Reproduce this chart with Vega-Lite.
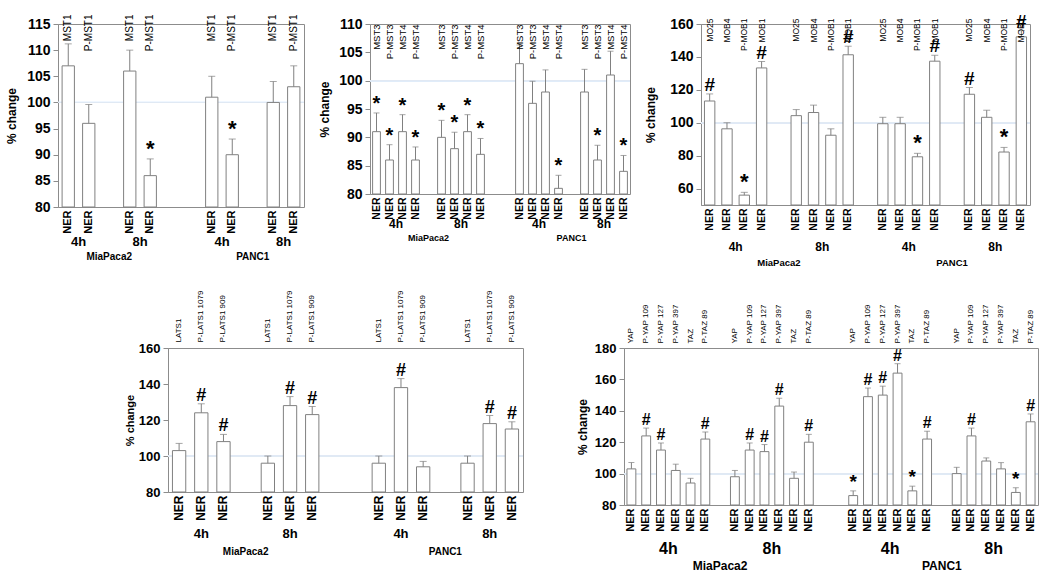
{
 "$schema": "https://vega.github.io/schema/vega-lite/v6.json",
 "background": "white",
 "padding": {"left": 5, "top": 12, "right": 0, "bottom": 0},
 "config": {
  "font": "Liberation Sans",
  "view": {"stroke": "#8c8c8c", "strokeWidth": 1},
  "axis": {"domainColor": "#8c8c8c", "tickColor": "#8c8c8c", "labelColor": "black", "titleColor": "black", "grid": false}
 },
 "spacing": 22,
 "vconcat": [
  {"spacing": 12, "hconcat": [
   {"width": 246, "height": 183,
    "data": {"values": [
     {"key": "M4h|MST1", "value": 107, "hi": 111.2, "sig": ""},
     {"key": "M4h|P-MST1", "value": 96, "hi": 99.6, "sig": ""},
     {"key": "M8h|MST1", "value": 106, "hi": 110, "sig": ""},
     {"key": "M8h|P-MST1", "value": 86, "hi": 89.2, "sig": "*"},
     {"key": "P4h|MST1", "value": 101, "hi": 105, "sig": ""},
     {"key": "P4h|P-MST1", "value": 90, "hi": 93, "sig": "*"},
     {"key": "P8h|MST1", "value": 100, "hi": 104, "sig": ""},
     {"key": "P8h|P-MST1", "value": 103, "hi": 107, "sig": ""}
    ]},
    "resolve": {"axis": {"x": "independent", "y": "independent"}},
    "layer": [
     {"mark": {"type": "rule", "color": "#e0e9f4", "strokeWidth": 1},
      "encoding": {"y": {"datum": 100, "type": "quantitative", "scale": {"domain": [80, 115], "nice": false, "zero": false}, "axis": null}}},
     {"mark": {"type": "bar", "fill": "white", "stroke": "#808080", "strokeWidth": 1},
      "encoding": {
       "x": {"field": "key", "type": "nominal", "scale": {"domain": ["M4h|MST1","M4h|P-MST1","g1","M8h|MST1","M8h|P-MST1","g2","g3","P4h|MST1","P4h|P-MST1","g4","P8h|MST1","P8h|P-MST1"], "paddingInner": 0.4, "paddingOuter": 0.2},
        "axis": {"orient": "bottom", "title": null, "labelExpr": "indexof(datum.value,'|') > 0 ? 'NER' : ''", "labelAngle": -90, "labelAlign": "right", "labelBaseline": "middle", "labelPadding": 3, "ticks": false, "tickSize": 0, "domain": false, "labelFontSize": 11, "labelFontWeight": "bold", "labelOverlap": false}},
       "y": {"field": "value", "type": "quantitative", "scale": {"domain": [80, 115], "nice": false, "zero": false},
        "axis": {"orient": "left", "title": "% change", "values": [80,85,90,95,100,105,110,115], "tickSize": 5, "labelPadding": 3, "titlePadding": 8, "labelFontSize": 14, "labelFontWeight": "bold", "titleFontSize": 12, "titleFontWeight": "bold"}},
       "y2": {"datum": 80}
      }},
     {"mark": {"type": "rule", "color": "#808080"},
      "encoding": {
       "x": {"field": "key", "type": "nominal", "scale": {"domain": ["M4h|MST1","M4h|P-MST1","g1","M8h|MST1","M8h|P-MST1","g2","g3","P4h|MST1","P4h|P-MST1","g4","P8h|MST1","P8h|P-MST1"], "paddingInner": 0.4, "paddingOuter": 0.2},
        "axis": {"orient": "top", "title": null, "labelExpr": "indexof(datum.value,'|') > 0 ? substring(datum.value,4) : ''", "labelAngle": -90, "labelAlign": "right", "labelBaseline": "middle", "labelPadding": 10, "ticks": false, "tickSize": 0, "domain": false, "labelFontSize": 10, "labelOverlap": false, "zindex": 1}},
       "y": {"field": "value", "type": "quantitative", "scale": {"domain": [80, 115], "nice": false, "zero": false}, "axis": null},
       "y2": {"field": "hi"}
      }},
     {"mark": {"type": "tick", "orient": "horizontal", "color": "#808080", "size": 7, "thickness": 1},
      "encoding": {
       "x": {"field": "key", "type": "nominal", "scale": {"domain": ["M4h|MST1","M4h|P-MST1","g1","M8h|MST1","M8h|P-MST1","g2","g3","P4h|MST1","P4h|P-MST1","g4","P8h|MST1","P8h|P-MST1"], "paddingInner": 0.4, "paddingOuter": 0.2},
        "axis": {"orient": "bottom", "offset": 28, "title": null, "values": ["M4h|P-MST1","M8h|P-MST1","P4h|P-MST1","P8h|P-MST1"], "labelExpr": "slice(datum.value,1,3)", "labelOffset": -10.25, "labelAngle": 0, "labelAlign": "center", "labelBaseline": "top", "labelPadding": 0, "ticks": false, "tickSize": 0, "domain": false, "labelFontSize": 13, "labelFontWeight": "bold", "labelOverlap": false}},
       "y": {"field": "hi", "type": "quantitative", "scale": {"domain": [80, 115], "nice": false, "zero": false}, "axis": null}
      }},
     {"mark": {"type": "text", "fontWeight": "bold", "baseline": "alphabetic", "dy": -3},
      "encoding": {
       "x": {"field": "key", "type": "nominal", "scale": {"domain": ["M4h|MST1","M4h|P-MST1","g1","M8h|MST1","M8h|P-MST1","g2","g3","P4h|MST1","P4h|P-MST1","g4","P8h|MST1","P8h|P-MST1"], "paddingInner": 0.4, "paddingOuter": 0.2},
        "axis": {"orient": "bottom", "offset": 44, "title": null, "values": ["g1","g4"], "labelExpr": "datum.value == 'g1' ? 'MiaPaca2' : 'PANC1'", "labelAngle": 0, "labelAlign": "center", "labelBaseline": "top", "labelPadding": 0, "ticks": false, "tickSize": 0, "domain": false, "labelFontSize": 10, "labelFontWeight": "bold", "labelOverlap": false}},
       "y": {"field": "hi", "type": "quantitative", "scale": {"domain": [80, 115], "nice": false, "zero": false}, "axis": null},
       "text": {"field": "sig"},
       "size": {"condition": {"test": "datum.sig == '*'", "value": 22}, "value": 18}
      }}
    ]},
   {"width": 260, "height": 170,
    "data": {"values": [
     {"key": "M4h|MST3", "value": 91, "hi": 94.3, "sig": "*"},
     {"key": "M4h|P-MST3", "value": 86, "hi": 88.7, "sig": "*"},
     {"key": "M4h|MST4", "value": 91, "hi": 94, "sig": "*"},
     {"key": "M4h|P-MST4", "value": 86, "hi": 88.3, "sig": "*"},
     {"key": "M8h|MST3", "value": 90, "hi": 93, "sig": "*"},
     {"key": "M8h|P-MST3", "value": 88, "hi": 90.9, "sig": "*"},
     {"key": "M8h|MST4", "value": 91, "hi": 94, "sig": "*"},
     {"key": "M8h|P-MST4", "value": 87, "hi": 89.8, "sig": "*"},
     {"key": "P4h|MST3", "value": 103, "hi": 106.3, "sig": ""},
     {"key": "P4h|P-MST3", "value": 96, "hi": 99.9, "sig": ""},
     {"key": "P4h|MST4", "value": 98, "hi": 101.9, "sig": ""},
     {"key": "P4h|P-MST4", "value": 81, "hi": 83.3, "sig": "*"},
     {"key": "P8h|MST3", "value": 98, "hi": 102, "sig": ""},
     {"key": "P8h|P-MST3", "value": 86, "hi": 88.6, "sig": "*"},
     {"key": "P8h|MST4", "value": 101, "hi": 105.2, "sig": ""},
     {"key": "P8h|P-MST4", "value": 84, "hi": 86.8, "sig": "*"}
    ]},
    "resolve": {"axis": {"x": "independent", "y": "independent"}},
    "layer": [
     {"mark": {"type": "rule", "color": "#e0e9f4", "strokeWidth": 1},
      "encoding": {"y": {"datum": 100, "type": "quantitative", "scale": {"domain": [80, 110], "nice": false, "zero": false}, "axis": null}}},
     {"mark": {"type": "bar", "fill": "white", "stroke": "#808080", "strokeWidth": 1},
      "encoding": {
       "x": {"field": "key", "type": "nominal", "scale": {"domain": ["M4h|MST3","M4h|P-MST3","M4h|MST4","M4h|P-MST4","g1","M8h|MST3","M8h|P-MST3","M8h|MST4","M8h|P-MST4","g2","g3","P4h|MST3","P4h|P-MST3","P4h|MST4","P4h|P-MST4","g4","P8h|MST3","P8h|P-MST3","P8h|MST4","P8h|P-MST4"], "paddingInner": 0.4, "paddingOuter": 0.2},
        "axis": {"orient": "bottom", "title": null, "labelExpr": "indexof(datum.value,'|') > 0 ? 'NER' : ''", "labelAngle": -90, "labelAlign": "right", "labelBaseline": "middle", "labelPadding": 3, "ticks": false, "tickSize": 0, "domain": false, "labelFontSize": 10.5, "labelFontWeight": "bold", "labelOverlap": false}},
       "y": {"field": "value", "type": "quantitative", "scale": {"domain": [80, 110], "nice": false, "zero": false},
        "axis": {"orient": "left", "title": "% change", "values": [80,85,90,95,100,105,110], "tickSize": 5, "labelPadding": 3, "titlePadding": 7.5, "labelFontSize": 14, "labelFontWeight": "bold", "titleFontSize": 12, "titleFontWeight": "bold"}},
       "y2": {"datum": 80}
      }},
     {"mark": {"type": "rule", "color": "#808080"},
      "encoding": {
       "x": {"field": "key", "type": "nominal", "scale": {"domain": ["M4h|MST3","M4h|P-MST3","M4h|MST4","M4h|P-MST4","g1","M8h|MST3","M8h|P-MST3","M8h|MST4","M8h|P-MST4","g2","g3","P4h|MST3","P4h|P-MST3","P4h|MST4","P4h|P-MST4","g4","P8h|MST3","P8h|P-MST3","P8h|MST4","P8h|P-MST4"], "paddingInner": 0.4, "paddingOuter": 0.2},
        "axis": {"orient": "top", "title": null, "labelExpr": "indexof(datum.value,'|') > 0 ? substring(datum.value,4) : ''", "labelAngle": -90, "labelAlign": "right", "labelBaseline": "middle", "labelPadding": 0, "ticks": false, "tickSize": 0, "domain": false, "labelFontSize": 9.5, "labelOverlap": false, "zindex": 1}},
       "y": {"field": "value", "type": "quantitative", "scale": {"domain": [80, 110], "nice": false, "zero": false}, "axis": null},
       "y2": {"field": "hi"}
      }},
     {"mark": {"type": "tick", "orient": "horizontal", "color": "#808080", "size": 6, "thickness": 1},
      "encoding": {
       "x": {"field": "key", "type": "nominal", "scale": {"domain": ["M4h|MST3","M4h|P-MST3","M4h|MST4","M4h|P-MST4","g1","M8h|MST3","M8h|P-MST3","M8h|MST4","M8h|P-MST4","g2","g3","P4h|MST3","P4h|P-MST3","P4h|MST4","P4h|P-MST4","g4","P8h|MST3","P8h|P-MST3","P8h|MST4","P8h|P-MST4"], "paddingInner": 0.4, "paddingOuter": 0.2},
        "axis": {"orient": "bottom", "offset": 24, "title": null, "values": ["M4h|MST4","M8h|MST4","P4h|MST4","P8h|MST4"], "labelExpr": "slice(datum.value,1,3)", "labelOffset": -6.5, "labelAngle": 0, "labelAlign": "center", "labelBaseline": "top", "labelPadding": 0, "ticks": false, "tickSize": 0, "domain": false, "labelFontSize": 12, "labelFontWeight": "bold", "labelOverlap": false}},
       "y": {"field": "hi", "type": "quantitative", "scale": {"domain": [80, 110], "nice": false, "zero": false}, "axis": null}
      }},
     {"mark": {"type": "text", "fontWeight": "bold", "baseline": "alphabetic", "dy": -3},
      "encoding": {
       "x": {"field": "key", "type": "nominal", "scale": {"domain": ["M4h|MST3","M4h|P-MST3","M4h|MST4","M4h|P-MST4","g1","M8h|MST3","M8h|P-MST3","M8h|MST4","M8h|P-MST4","g2","g3","P4h|MST3","P4h|P-MST3","P4h|MST4","P4h|P-MST4","g4","P8h|MST3","P8h|P-MST3","P8h|MST4","P8h|P-MST4"], "paddingInner": 0.4, "paddingOuter": 0.2},
        "axis": {"orient": "bottom", "offset": 39, "title": null, "values": ["g1","g4"], "labelExpr": "datum.value == 'g1' ? 'MiaPaca2' : 'PANC1'", "labelAngle": 0, "labelAlign": "center", "labelBaseline": "top", "labelPadding": 0, "ticks": false, "tickSize": 0, "domain": false, "labelFontSize": 9, "labelFontWeight": "bold", "labelOverlap": false}},
       "y": {"field": "hi", "type": "quantitative", "scale": {"domain": [80, 110], "nice": false, "zero": false}, "axis": null},
       "text": {"field": "sig"},
       "size": {"condition": {"test": "datum.sig == '*'", "value": 20}, "value": 17}
      }}
    ]},
   {"width": 329, "height": 181,
    "data": {"values": [
     {"key": "M4h|MO25", "value": 113.2, "hi": 117.5, "sig": "#"},
     {"key": "M4h|MOB4", "value": 96.3, "hi": 100, "sig": ""},
     {"key": "M4h|P-MOB1", "value": 56, "hi": 57.7, "sig": "*"},
     {"key": "M4h|MOB1", "value": 133.3, "hi": 137.2, "sig": "#"},
     {"key": "M8h|MO25", "value": 104.3, "hi": 108, "sig": ""},
     {"key": "M8h|MOB4", "value": 106.2, "hi": 110.7, "sig": ""},
     {"key": "M8h|P-MOB1", "value": 92.4, "hi": 96.3, "sig": ""},
     {"key": "M8h|MOB1", "value": 141.3, "hi": 146.5, "sig": "#"},
     {"key": "P4h|MO25", "value": 99.4, "hi": 103.3, "sig": ""},
     {"key": "P4h|MOB4", "value": 99.4, "hi": 103.3, "sig": ""},
     {"key": "P4h|P-MOB1", "value": 79.3, "hi": 81.4, "sig": "*"},
     {"key": "P4h|MOB1", "value": 137.4, "hi": 141, "sig": "#"},
     {"key": "P8h|MO25", "value": 117.3, "hi": 121.4, "sig": "#"},
     {"key": "P8h|MOB4", "value": 103.3, "hi": 107.6, "sig": ""},
     {"key": "P8h|P-MOB1", "value": 82.2, "hi": 85, "sig": "*"},
     {"key": "P8h|MOB1", "value": 152.2, "hi": 156, "sig": "#"}
    ]},
    "resolve": {"axis": {"x": "independent", "y": "independent"}},
    "layer": [
     {"mark": {"type": "rule", "color": "#e0e9f4", "strokeWidth": 1},
      "encoding": {"y": {"datum": 100, "type": "quantitative", "scale": {"domain": [50, 160], "nice": false, "zero": false}, "axis": null}}},
     {"mark": {"type": "bar", "fill": "white", "stroke": "#808080", "strokeWidth": 1},
      "encoding": {
       "x": {"field": "key", "type": "nominal", "scale": {"domain": ["M4h|MO25","M4h|MOB4","M4h|P-MOB1","M4h|MOB1","g1","M8h|MO25","M8h|MOB4","M8h|P-MOB1","M8h|MOB1","g2","P4h|MO25","P4h|MOB4","P4h|P-MOB1","P4h|MOB1","g3","P8h|MO25","P8h|MOB4","P8h|P-MOB1","P8h|MOB1"], "paddingInner": 0.4, "paddingOuter": 0.2},
        "axis": {"orient": "bottom", "title": null, "labelExpr": "indexof(datum.value,'|') > 0 ? 'NER' : ''", "labelAngle": -90, "labelAlign": "right", "labelBaseline": "middle", "labelPadding": 3, "ticks": false, "tickSize": 0, "domain": false, "labelFontSize": 10.5, "labelFontWeight": "bold", "labelOverlap": false}},
       "y": {"field": "value", "type": "quantitative", "scale": {"domain": [50, 160], "nice": false, "zero": false},
        "axis": {"orient": "left", "title": "% change", "values": [60,80,100,120,140,160], "tickSize": 5, "labelPadding": 3, "titlePadding": 12.5, "labelFontSize": 14, "labelFontWeight": "bold", "titleFontSize": 12, "titleFontWeight": "bold"}},
       "y2": {"datum": 50}
      }},
     {"mark": {"type": "rule", "color": "#808080"},
      "encoding": {
       "x": {"field": "key", "type": "nominal", "scale": {"domain": ["M4h|MO25","M4h|MOB4","M4h|P-MOB1","M4h|MOB1","g1","M8h|MO25","M8h|MOB4","M8h|P-MOB1","M8h|MOB1","g2","P4h|MO25","P4h|MOB4","P4h|P-MOB1","P4h|MOB1","g3","P8h|MO25","P8h|MOB4","P8h|P-MOB1","P8h|MOB1"], "paddingInner": 0.4, "paddingOuter": 0.2},
        "axis": {"orient": "top", "title": null, "labelExpr": "indexof(datum.value,'|') > 0 ? substring(datum.value,4) : ''", "labelAngle": -90, "labelAlign": "right", "labelBaseline": "middle", "labelPadding": 6, "ticks": false, "tickSize": 0, "domain": false, "labelFontSize": 8.5, "labelOverlap": false, "zindex": 1}},
       "y": {"field": "value", "type": "quantitative", "scale": {"domain": [50, 160], "nice": false, "zero": false}, "axis": null},
       "y2": {"field": "hi"}
      }},
     {"mark": {"type": "tick", "orient": "horizontal", "color": "#808080", "size": 7, "thickness": 1},
      "encoding": {
       "x": {"field": "key", "type": "nominal", "scale": {"domain": ["M4h|MO25","M4h|MOB4","M4h|P-MOB1","M4h|MOB1","g1","M8h|MO25","M8h|MOB4","M8h|P-MOB1","M8h|MOB1","g2","P4h|MO25","P4h|MOB4","P4h|P-MOB1","P4h|MOB1","g3","P8h|MO25","P8h|MOB4","P8h|P-MOB1","P8h|MOB1"], "paddingInner": 0.4, "paddingOuter": 0.2},
        "axis": {"orient": "bottom", "offset": 36, "title": null, "values": ["M4h|P-MOB1","M8h|P-MOB1","P4h|P-MOB1","P8h|P-MOB1"], "labelExpr": "slice(datum.value,1,3)", "labelOffset": -8.66, "labelAngle": 0, "labelAlign": "center", "labelBaseline": "top", "labelPadding": 0, "ticks": false, "tickSize": 0, "domain": false, "labelFontSize": 12, "labelFontWeight": "bold", "labelOverlap": false}},
       "y": {"field": "hi", "type": "quantitative", "scale": {"domain": [50, 160], "nice": false, "zero": false}, "axis": null}
      }},
     {"mark": {"type": "text", "fontWeight": "bold", "baseline": "alphabetic", "dy": -3},
      "encoding": {
       "x": {"field": "key", "type": "nominal", "scale": {"domain": ["M4h|MO25","M4h|MOB4","M4h|P-MOB1","M4h|MOB1","g1","M8h|MO25","M8h|MOB4","M8h|P-MOB1","M8h|MOB1","g2","P4h|MO25","P4h|MOB4","P4h|P-MOB1","P4h|MOB1","g3","P8h|MO25","P8h|MOB4","P8h|P-MOB1","P8h|MOB1"], "paddingInner": 0.4, "paddingOuter": 0.2},
        "axis": {"orient": "bottom", "offset": 52, "title": null, "values": ["g1","g3"], "labelExpr": "datum.value == 'g1' ? 'MiaPaca2' : 'PANC1'", "labelAngle": 0, "labelAlign": "center", "labelBaseline": "top", "labelPadding": 0, "ticks": false, "tickSize": 0, "domain": false, "labelFontSize": 9.5, "labelFontWeight": "bold", "labelOverlap": false}},
       "y": {"field": "hi", "type": "quantitative", "scale": {"domain": [50, 160], "nice": false, "zero": false}, "axis": null},
       "text": {"field": "sig"},
       "size": {"condition": {"test": "datum.sig == '*'", "value": 22}, "value": 19}
      }}
    ]}
  ]},
  {"spacing": 51, "hconcat": [
   {"width": 15, "height": 10, "view": {"stroke": null}, "data": {"values": []}, "mark": "point", "encoding": {}},
   {"width": 355, "height": 144,
    "data": {"values": [
     {"key": "M4h|LATS1", "value": 103, "hi": 107, "sig": ""},
     {"key": "M4h|P-LATS1 1079", "value": 124, "hi": 129, "sig": "#"},
     {"key": "M4h|P-LATS1 909", "value": 108, "hi": 112, "sig": "#"},
     {"key": "M8h|LATS1", "value": 96, "hi": 100, "sig": ""},
     {"key": "M8h|P-LATS1 1079", "value": 128, "hi": 133, "sig": "#"},
     {"key": "M8h|P-LATS1 909", "value": 123, "hi": 127.5, "sig": "#"},
     {"key": "P4h|LATS1", "value": 96, "hi": 100, "sig": ""},
     {"key": "P4h|P-LATS1 1079", "value": 138, "hi": 143, "sig": "#"},
     {"key": "P4h|P-LATS1 909", "value": 94, "hi": 97, "sig": ""},
     {"key": "P8h|LATS1", "value": 96, "hi": 100, "sig": ""},
     {"key": "P8h|P-LATS1 1079", "value": 118, "hi": 122.5, "sig": "#"},
     {"key": "P8h|P-LATS1 909", "value": 115, "hi": 119, "sig": "#"}
    ]},
    "resolve": {"axis": {"x": "independent", "y": "independent"}},
    "layer": [
     {"mark": {"type": "rule", "color": "#e0e9f4", "strokeWidth": 1},
      "encoding": {"y": {"datum": 100, "type": "quantitative", "scale": {"domain": [80, 160], "nice": false, "zero": false}, "axis": null}}},
     {"mark": {"type": "bar", "fill": "white", "stroke": "#808080", "strokeWidth": 1},
      "encoding": {
       "x": {"field": "key", "type": "nominal", "scale": {"domain": ["M4h|LATS1","M4h|P-LATS1 1079","M4h|P-LATS1 909","g1","M8h|LATS1","M8h|P-LATS1 1079","M8h|P-LATS1 909","g2","g3","P4h|LATS1","P4h|P-LATS1 1079","P4h|P-LATS1 909","g4","P8h|LATS1","P8h|P-LATS1 1079","P8h|P-LATS1 909"], "paddingInner": 0.4, "paddingOuter": 0.2},
        "axis": {"orient": "bottom", "title": null, "labelExpr": "indexof(datum.value,'|') > 0 ? 'NER' : ''", "labelAngle": -90, "labelAlign": "right", "labelBaseline": "middle", "labelPadding": 3, "ticks": false, "tickSize": 0, "domain": false, "labelFontSize": 12, "labelFontWeight": "bold", "labelOverlap": false}},
       "y": {"field": "value", "type": "quantitative", "scale": {"domain": [80, 160], "nice": false, "zero": false},
        "axis": {"orient": "left", "title": "% change", "values": [80,100,120,140,160], "tickSize": 5, "labelPadding": 3, "titlePadding": 2.5, "labelFontSize": 13, "labelFontWeight": "bold", "titleFontSize": 11, "titleFontWeight": "bold"}},
       "y2": {"datum": 80}
      }},
     {"mark": {"type": "rule", "color": "#808080"},
      "encoding": {
       "x": {"field": "key", "type": "nominal", "scale": {"domain": ["M4h|LATS1","M4h|P-LATS1 1079","M4h|P-LATS1 909","g1","M8h|LATS1","M8h|P-LATS1 1079","M8h|P-LATS1 909","g2","g3","P4h|LATS1","P4h|P-LATS1 1079","P4h|P-LATS1 909","g4","P8h|LATS1","P8h|P-LATS1 1079","P8h|P-LATS1 909"], "paddingInner": 0.4, "paddingOuter": 0.2},
        "axis": {"orient": "top", "title": null, "labelExpr": "indexof(datum.value,'|') > 0 ? substring(datum.value,4) : ''", "labelAngle": -90, "labelAlign": "left", "labelBaseline": "middle", "labelPadding": 6, "ticks": false, "tickSize": 0, "domain": false, "labelFontSize": 8, "labelOverlap": false, "zindex": 1}},
       "y": {"field": "value", "type": "quantitative", "scale": {"domain": [80, 160], "nice": false, "zero": false}, "axis": null},
       "y2": {"field": "hi"}
      }},
     {"mark": {"type": "tick", "orient": "horizontal", "color": "#808080", "size": 7, "thickness": 1},
      "encoding": {
       "x": {"field": "key", "type": "nominal", "scale": {"domain": ["M4h|LATS1","M4h|P-LATS1 1079","M4h|P-LATS1 909","g1","M8h|LATS1","M8h|P-LATS1 1079","M8h|P-LATS1 909","g2","g3","P4h|LATS1","P4h|P-LATS1 1079","P4h|P-LATS1 909","g4","P8h|LATS1","P8h|P-LATS1 1079","P8h|P-LATS1 909"], "paddingInner": 0.4, "paddingOuter": 0.2},
        "axis": {"orient": "bottom", "offset": 35, "title": null, "values": ["M4h|P-LATS1 1079","M8h|P-LATS1 1079","P4h|P-LATS1 1079","P8h|P-LATS1 1079"], "labelExpr": "slice(datum.value,1,3)", "labelOffset": 0, "labelAngle": 0, "labelAlign": "center", "labelBaseline": "top", "labelPadding": 0, "ticks": false, "tickSize": 0, "domain": false, "labelFontSize": 13, "labelFontWeight": "bold", "labelOverlap": false}},
       "y": {"field": "hi", "type": "quantitative", "scale": {"domain": [80, 160], "nice": false, "zero": false}, "axis": null}
      }},
     {"mark": {"type": "text", "fontWeight": "bold", "baseline": "alphabetic", "dy": -3},
      "encoding": {
       "x": {"field": "key", "type": "nominal", "scale": {"domain": ["M4h|LATS1","M4h|P-LATS1 1079","M4h|P-LATS1 909","g1","M8h|LATS1","M8h|P-LATS1 1079","M8h|P-LATS1 909","g2","g3","P4h|LATS1","P4h|P-LATS1 1079","P4h|P-LATS1 909","g4","P8h|LATS1","P8h|P-LATS1 1079","P8h|P-LATS1 909"], "paddingInner": 0.4, "paddingOuter": 0.2},
        "axis": {"orient": "bottom", "offset": 54, "title": null, "values": ["g1","g4"], "labelExpr": "datum.value == 'g1' ? 'MiaPaca2' : 'PANC1'", "labelAngle": 0, "labelAlign": "center", "labelBaseline": "top", "labelPadding": 0, "ticks": false, "tickSize": 0, "domain": false, "labelFontSize": 10, "labelFontWeight": "bold", "labelOverlap": false}},
       "y": {"field": "hi", "type": "quantitative", "scale": {"domain": [80, 160], "nice": false, "zero": false}, "axis": null},
       "text": {"field": "sig"},
       "size": {"condition": {"test": "datum.sig == '*'", "value": 20}, "value": 18}
      }}
    ]},
   {"width": 414, "height": 157,
    "data": {"values": [
     {"key": "M4h|YAP", "value": 103, "hi": 107, "sig": ""},
     {"key": "M4h|P-YAP 109", "value": 124, "hi": 129, "sig": "#"},
     {"key": "M4h|P-YAP 127", "value": 115, "hi": 119.5, "sig": "#"},
     {"key": "M4h|P-YAP 397", "value": 102, "hi": 106, "sig": ""},
     {"key": "M4h|TAZ", "value": 94, "hi": 97, "sig": ""},
     {"key": "M4h|P-TAZ 89", "value": 122, "hi": 126.5, "sig": "#"},
     {"key": "M8h|YAP", "value": 98, "hi": 102, "sig": ""},
     {"key": "M8h|P-YAP 109", "value": 115, "hi": 119.5, "sig": "#"},
     {"key": "M8h|P-YAP 127", "value": 114, "hi": 118.5, "sig": "#"},
     {"key": "M8h|P-YAP 397", "value": 143, "hi": 148, "sig": "#"},
     {"key": "M8h|TAZ", "value": 97, "hi": 101, "sig": ""},
     {"key": "M8h|P-TAZ 89", "value": 120, "hi": 125, "sig": "#"},
     {"key": "P4h|YAP", "value": 86, "hi": 89, "sig": "*"},
     {"key": "P4h|P-YAP 109", "value": 149, "hi": 154.5, "sig": "#"},
     {"key": "P4h|P-YAP 127", "value": 150, "hi": 155.7, "sig": "#"},
     {"key": "P4h|P-YAP 397", "value": 164, "hi": 170, "sig": "#"},
     {"key": "P4h|TAZ", "value": 89, "hi": 92, "sig": "*"},
     {"key": "P4h|P-TAZ 89", "value": 122, "hi": 127, "sig": "#"},
     {"key": "P8h|YAP", "value": 100, "hi": 104, "sig": ""},
     {"key": "P8h|P-YAP 109", "value": 124, "hi": 129, "sig": "#"},
     {"key": "P8h|P-YAP 127", "value": 108, "hi": 110, "sig": ""},
     {"key": "P8h|P-YAP 397", "value": 103, "hi": 107, "sig": ""},
     {"key": "P8h|TAZ", "value": 88, "hi": 91, "sig": "*"},
     {"key": "P8h|P-TAZ 89", "value": 133, "hi": 138, "sig": "#"}
    ]},
    "resolve": {"axis": {"x": "independent", "y": "independent"}},
    "layer": [
     {"mark": {"type": "rule", "color": "#e0e9f4", "strokeWidth": 1},
      "encoding": {"y": {"datum": 100, "type": "quantitative", "scale": {"domain": [80, 180], "nice": false, "zero": false}, "axis": null}}},
     {"mark": {"type": "bar", "fill": "white", "stroke": "#808080", "strokeWidth": 1},
      "encoding": {
       "x": {"field": "key", "type": "nominal", "scale": {"domain": ["M4h|YAP","M4h|P-YAP 109","M4h|P-YAP 127","M4h|P-YAP 397","M4h|TAZ","M4h|P-TAZ 89","g1","M8h|YAP","M8h|P-YAP 109","M8h|P-YAP 127","M8h|P-YAP 397","M8h|TAZ","M8h|P-TAZ 89","g2","g3","P4h|YAP","P4h|P-YAP 109","P4h|P-YAP 127","P4h|P-YAP 397","P4h|TAZ","P4h|P-TAZ 89","g4","P8h|YAP","P8h|P-YAP 109","P8h|P-YAP 127","P8h|P-YAP 397","P8h|TAZ","P8h|P-TAZ 89"], "paddingInner": 0.4, "paddingOuter": 0.2},
        "axis": {"orient": "bottom", "title": null, "labelExpr": "indexof(datum.value,'|') > 0 ? 'NER' : ''", "labelAngle": -90, "labelAlign": "right", "labelBaseline": "middle", "labelPadding": 3, "ticks": false, "tickSize": 0, "domain": false, "labelFontSize": 11, "labelFontWeight": "bold", "labelOverlap": false}},
       "y": {"field": "value", "type": "quantitative", "scale": {"domain": [80, 180], "nice": false, "zero": false},
        "axis": {"orient": "left", "title": "% change", "values": [80,100,120,140,160,180], "tickSize": 5, "labelPadding": 3, "titlePadding": 5, "labelFontSize": 13, "labelFontWeight": "bold", "titleFontSize": 12, "titleFontWeight": "bold"}},
       "y2": {"datum": 80}
      }},
     {"mark": {"type": "rule", "color": "#808080"},
      "encoding": {
       "x": {"field": "key", "type": "nominal", "scale": {"domain": ["M4h|YAP","M4h|P-YAP 109","M4h|P-YAP 127","M4h|P-YAP 397","M4h|TAZ","M4h|P-TAZ 89","g1","M8h|YAP","M8h|P-YAP 109","M8h|P-YAP 127","M8h|P-YAP 397","M8h|TAZ","M8h|P-TAZ 89","g2","g3","P4h|YAP","P4h|P-YAP 109","P4h|P-YAP 127","P4h|P-YAP 397","P4h|TAZ","P4h|P-TAZ 89","g4","P8h|YAP","P8h|P-YAP 109","P8h|P-YAP 127","P8h|P-YAP 397","P8h|TAZ","P8h|P-TAZ 89"], "paddingInner": 0.4, "paddingOuter": 0.2},
        "axis": {"orient": "top", "title": null, "labelExpr": "indexof(datum.value,'|') > 0 ? substring(datum.value,4) : ''", "labelAngle": -90, "labelAlign": "left", "labelBaseline": "middle", "labelPadding": 5, "ticks": false, "tickSize": 0, "domain": false, "labelFontSize": 8, "labelOverlap": false, "zindex": 1}},
       "y": {"field": "value", "type": "quantitative", "scale": {"domain": [80, 180], "nice": false, "zero": false}, "axis": null},
       "y2": {"field": "hi"}
      }},
     {"mark": {"type": "tick", "orient": "horizontal", "color": "#808080", "size": 6, "thickness": 1},
      "encoding": {
       "x": {"field": "key", "type": "nominal", "scale": {"domain": ["M4h|YAP","M4h|P-YAP 109","M4h|P-YAP 127","M4h|P-YAP 397","M4h|TAZ","M4h|P-TAZ 89","g1","M8h|YAP","M8h|P-YAP 109","M8h|P-YAP 127","M8h|P-YAP 397","M8h|TAZ","M8h|P-TAZ 89","g2","g3","P4h|YAP","P4h|P-YAP 109","P4h|P-YAP 127","P4h|P-YAP 397","P4h|TAZ","P4h|P-TAZ 89","g4","P8h|YAP","P8h|P-YAP 109","P8h|P-YAP 127","P8h|P-YAP 397","P8h|TAZ","P8h|P-TAZ 89"], "paddingInner": 0.4, "paddingOuter": 0.2},
        "axis": {"orient": "bottom", "offset": 35, "title": null, "values": ["M4h|P-YAP 397","M8h|P-YAP 397","P4h|P-YAP 397","P8h|P-YAP 397"], "labelExpr": "slice(datum.value,1,3)", "labelOffset": -7.39, "labelAngle": 0, "labelAlign": "center", "labelBaseline": "top", "labelPadding": 0, "ticks": false, "tickSize": 0, "domain": false, "labelFontSize": 16, "labelFontWeight": "bold", "labelOverlap": false}},
       "y": {"field": "hi", "type": "quantitative", "scale": {"domain": [80, 180], "nice": false, "zero": false}, "axis": null}
      }},
     {"mark": {"type": "text", "fontWeight": "bold", "baseline": "alphabetic", "dy": -3},
      "encoding": {
       "x": {"field": "key", "type": "nominal", "scale": {"domain": ["M4h|YAP","M4h|P-YAP 109","M4h|P-YAP 127","M4h|P-YAP 397","M4h|TAZ","M4h|P-TAZ 89","g1","M8h|YAP","M8h|P-YAP 109","M8h|P-YAP 127","M8h|P-YAP 397","M8h|TAZ","M8h|P-TAZ 89","g2","g3","P4h|YAP","P4h|P-YAP 109","P4h|P-YAP 127","P4h|P-YAP 397","P4h|TAZ","P4h|P-TAZ 89","g4","P8h|YAP","P8h|P-YAP 109","P8h|P-YAP 127","P8h|P-YAP 397","P8h|TAZ","P8h|P-TAZ 89"], "paddingInner": 0.4, "paddingOuter": 0.2},
        "axis": {"orient": "bottom", "offset": 55, "title": null, "values": ["g1","g4"], "labelExpr": "datum.value == 'g1' ? 'MiaPaca2' : 'PANC1'", "labelAngle": 0, "labelAlign": "center", "labelBaseline": "top", "labelPadding": 0, "ticks": false, "tickSize": 0, "domain": false, "labelFontSize": 12, "labelFontWeight": "bold", "labelOverlap": false}},
       "y": {"field": "hi", "type": "quantitative", "scale": {"domain": [80, 180], "nice": false, "zero": false}, "axis": null},
       "text": {"field": "sig"},
       "size": {"condition": {"test": "datum.sig == '*'", "value": 19}, "value": 16}
      }}
    ]}
  ]}
 ]
}
